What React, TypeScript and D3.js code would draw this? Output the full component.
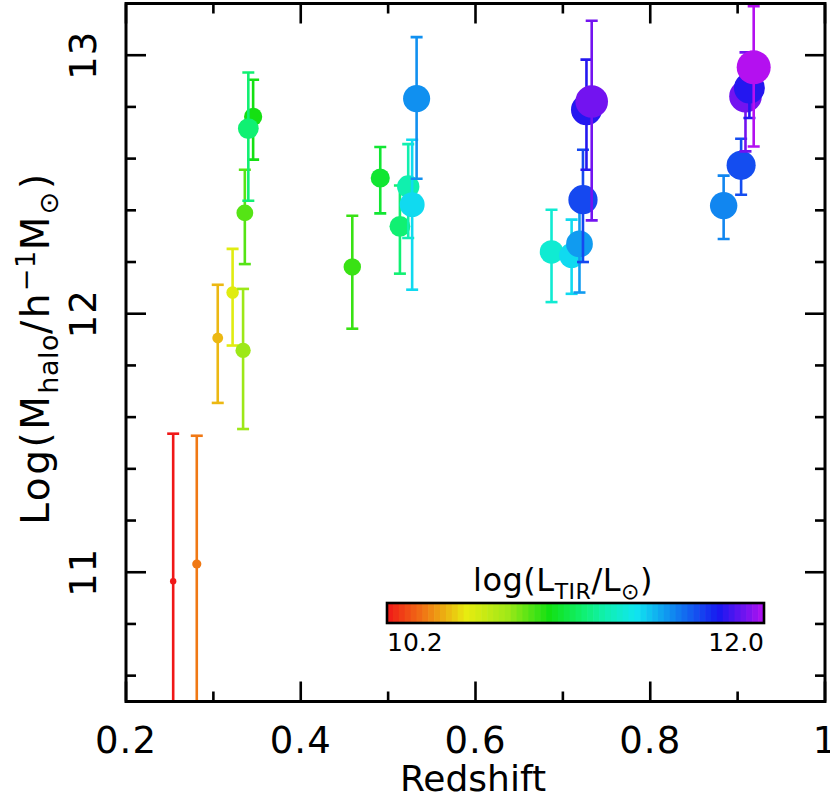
import React from 'react';
import * as d3 from 'd3';

// ---- data ----
const redshift = [0.254, 0.281, 0.305, 0.322, 0.334, 0.336, 0.3455, 0.340, 0.459, 0.491, 0.5135, 0.523, 0.5275, 0.5326, 0.687, 0.710, 0.719, 0.723, 0.727, 0.733, 0.884, 0.904, 0.909, 0.9135, 0.9184];
const logMhalo = [10.965, 11.032, 11.906, 12.082, 11.858, 12.39, 12.762, 12.716, 12.181, 12.525, 12.338, 12.492, 12.422, 12.832, 12.239, 12.225, 12.27, 12.441, 12.789, 12.821, 12.418, 12.574, 12.841, 12.873, 12.953];
const logMhaloLow = [10.39, 10.45, 11.655, 11.877, 11.554, 12.192, 12.596, 12.437, 11.942, 12.388, 12.155, 12.293, 12.093, 12.522, 12.045, 12.077, 12.082, 12.2, 12.557, 12.361, 12.289, 12.46, 12.628, 12.757, 12.647];
const logMhaloHigh = [11.536, 11.528, 12.112, 12.251, 12.096, 12.557, 12.905, 12.933, 12.379, 12.645, 12.496, 12.656, 12.673, 13.07, 12.402, 12.364, 12.45, 12.634, 12.983, 13.133, 12.534, 12.677, 13.011, 12.99, 13.19];
const logLTIR = [10.2, 10.38, 10.49, 10.6, 10.78, 10.88, 10.97, 11.14, 10.92, 11.03, 11.14, 11.24, 11.41, 11.55, 11.32, 11.41, 11.53, 11.69, 11.8, 11.91, 11.57, 11.68, 11.91, 11.8, 12.0];

const xMajorTicks = [0.2, 0.4, 0.6, 0.8, 1.0];
const xTickLabels = ['0.2', '0.4', '0.6', '0.8', '1'];
const xMinorTicks = [0.3, 0.5, 0.7, 0.9];
const yMajorTicks = [11, 12, 13];
const yTickLabels = ['11', '12', '13'];
const yMinorTicks = [10.6, 10.8, 11.2, 11.4, 11.6, 11.8, 12.2, 12.4, 12.6, 12.8, 13.2];
const colorbarRange = [10.2, 12.0];
const colorbarLabels = ['10.2', '12.0'];

// colour table stops (fraction of the colour bar)
const cStops = [0, 0.1, 0.21, 0.32, 0.43, 0.52, 0.58, 0.66, 0.75, 0.88, 1.0];
const cColors = ['#f01818', '#f07814', '#e8ec10', '#a0e818', '#12e012', '#10f070', '#10f0b0', '#10e6f0', '#1090f0', '#1818f0', '#b410f0'];

const W = 830;
const H = 801;
const FONT = '"DejaVu Sans", sans-serif';

export default function App() {
  const x = d3.scaleLinear().domain([0.2, 1.0]).range([126, 825]);
  const y = d3.scaleLinear().domain([10.5, 13.2]).range([701.5, 3.5]);
  const tFrac = d3.scaleLinear().domain(colorbarRange).range([0, 1]).clamp(true);
  const cScale = d3.scaleLinear<string>().domain(cStops).range(cColors).interpolate(d3.interpolateRgb);
  const color = (L: number) => cScale(tFrac(L));
  const rScale = d3.scaleLinear().domain(colorbarRange).range([3.2, 17]);

  const [x0, x1] = x.range();
  const [y0, y1] = [y(13.2), y(10.5)];

  // colour bar
  const cbX = d3.scaleLinear().domain(colorbarRange).range([387, 764]);
  const nBands = 64;
  const bands = d3.range(nBands).map((i) => colorbarRange[0] + (i / nBands) * (colorbarRange[1] - colorbarRange[0]));
  const bandW = (cbX.range()[1] - cbX.range()[0]) / nBands;
  const cbY = 603;
  const cbH = 20;

  const capHalf = 6;

  return (
    <svg width={W} height={H} style={{ position: 'absolute', left: 0, top: 0, background: '#fff' }} fontFamily={FONT}>
      <defs>
        <clipPath id="plotClip">
          <rect x={x0} y={y0} width={x1 - x0} height={y1 - y0} />
        </clipPath>
      </defs>

      <g clipPath="url(#plotClip)">
        {redshift.map((z, i) => {
          const c = color(logLTIR[i]);
          const cx = x(z);
          const yl = y(logMhaloLow[i]);
          const yh = y(logMhaloHigh[i]);
          return (
            <g key={i}>
              <line x1={cx} x2={cx} y1={yl} y2={yh} stroke={c} strokeWidth={2.6} />
              <line x1={cx - capHalf} x2={cx + capHalf} y1={yh} y2={yh} stroke={c} strokeWidth={2.6} />
              <line x1={cx - capHalf} x2={cx + capHalf} y1={yl} y2={yl} stroke={c} strokeWidth={2.6} />
              <circle cx={cx} cy={y(logMhalo[i])} r={rScale(logLTIR[i])} fill={c} />
            </g>
          );
        })}
      </g>

      {/* colour bar */}
      {bands.map((b, i) => (
        <rect key={i} x={cbX(b)} y={cbY} width={bandW + 0.6} height={cbH} fill={color(b + (colorbarRange[1] - colorbarRange[0]) / nBands / 2)} />
      ))}
      <rect x={cbX.range()[0]} y={cbY} width={cbX.range()[1] - cbX.range()[0]} height={cbH} fill="none" stroke="#000" strokeWidth={2.6} />
      <text x={cbX.range()[0]} y={651} fontSize={25} textAnchor="start">{colorbarLabels[0]}</text>
      <text x={cbX.range()[1]} y={651} fontSize={25} textAnchor="end">{colorbarLabels[1]}</text>
      <text x={563} y={591} fontSize={32} textAnchor="middle" letterSpacing={0.5}>
        log(L<tspan fontSize={22} dy={8}>TIR</tspan><tspan dy={-8}>/L</tspan><tspan fontSize={22} dy={8}>⊙</tspan><tspan dy={-8}>)</tspan>
      </text>

      {/* frame */}
      <rect x={x0} y={y0} width={x1 - x0} height={y1 - y0} fill="none" stroke="#000" strokeWidth={3} />

      {/* x ticks */}
      {xMajorTicks.map((t) => (
        <g key={'xm' + t}>
          <line x1={x(t)} x2={x(t)} y1={y1} y2={y1 - 20} stroke="#000" strokeWidth={2.6} />
          <line x1={x(t)} x2={x(t)} y1={y0} y2={y0 + 20} stroke="#000" strokeWidth={2.6} />
        </g>
      ))}
      {xMinorTicks.map((t) => (
        <g key={'xn' + t}>
          <line x1={x(t)} x2={x(t)} y1={y1} y2={y1 - 10} stroke="#000" strokeWidth={2.6} />
          <line x1={x(t)} x2={x(t)} y1={y0} y2={y0 + 10} stroke="#000" strokeWidth={2.6} />
        </g>
      ))}
      {xMajorTicks.map((t, i) => (
        <text key={'xl' + t} x={x(t)} y={753} fontSize={37} textAnchor="middle" letterSpacing={1}>{xTickLabels[i]}</text>
      ))}

      {/* y ticks */}
      {yMajorTicks.map((t) => (
        <g key={'ym' + t}>
          <line x1={x0} x2={x0 + 20} y1={y(t)} y2={y(t)} stroke="#000" strokeWidth={2.6} />
          <line x1={x1} x2={x1 - 20} y1={y(t)} y2={y(t)} stroke="#000" strokeWidth={2.6} />
        </g>
      ))}
      {yMinorTicks.map((t) => (
        <g key={'yn' + t}>
          <line x1={x0} x2={x0 + 10} y1={y(t)} y2={y(t)} stroke="#000" strokeWidth={2.6} />
          <line x1={x1} x2={x1 - 10} y1={y(t)} y2={y(t)} stroke="#000" strokeWidth={2.6} />
        </g>
      ))}
      {yMajorTicks.map((t, i) => (
        <text key={'yl' + t} transform={`translate(96,${y(t)}) rotate(-90)`} fontSize={37} textAnchor="middle" letterSpacing={1}>{yTickLabels[i]}</text>
      ))}

      {/* axis titles */}
      <text x={473} y={791} fontSize={36} textAnchor="middle">Redshift</text>
      <text transform={`translate(49,348) rotate(-90)`} fontSize={39} textAnchor="middle" letterSpacing={2.5}>
        Log(M<tspan fontSize={27} dy={9} letterSpacing={0.5}>halo</tspan><tspan dy={-9}>/h</tspan><tspan fontSize={27} dy={-14} letterSpacing={0.5}>−1</tspan><tspan dy={14}>M</tspan><tspan fontSize={27} dy={9}>⊙</tspan><tspan dy={-9}>)</tspan>
      </text>
    </svg>
  );
}
